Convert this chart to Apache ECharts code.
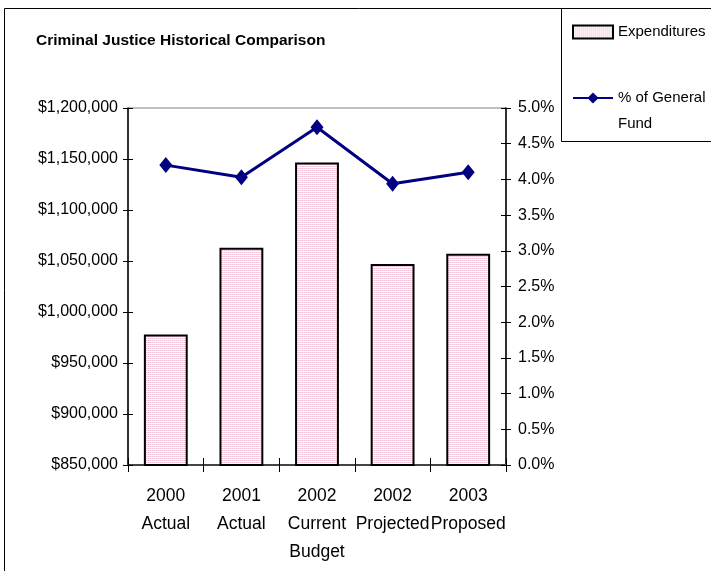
<!DOCTYPE html>
<html>
<head>
<meta charset="utf-8">
<script src="https://cdn.jsdelivr.net/npm/echarts@6/dist/echarts.min.js"></script>
<style>
  html, body { margin: 0; padding: 0; background: #fff; }
  #chart { width: 711px; height: 571px; }
</style>
</head>
<body>
<div id="chart"></div>
<script>
const categories = ['2000\nActual', '2001\nActual', '2002\nCurrent\nBudget', '2002\nProjected', '2003\nProposed']
const expenditures = [978000, 1063000, 1146500, 1047000, 1057000]
const pctGeneralFund = [4.2, 4.03, 4.73, 3.94, 4.1]

const FONT = '"Liberation Sans", Arial, sans-serif'

// pink horizontal hatch used by the bars
function hatch() {
  const c = document.createElement('canvas')
  c.width = 4
  c.height = 2
  const ctx = c.getContext('2d')
  ctx.fillStyle = '#ffffff'
  ctx.fillRect(0, 0, 4, 2)
  ctx.fillStyle = '#efc3d7'
  ctx.fillRect(0, 0, 4, 1)
  ctx.fillStyle = '#f6dbe7'
  ctx.fillRect(1, 0, 1, 1)
  ctx.fillRect(3, 0, 1, 1)
  return c
}

const barFill = { image: hatch(), repeat: 'repeat' }

function money(v) {
  return '$' + String(v).replace(/\B(?=(\d{3})+(?!\d))/g, ',')
}

const leftScale = { min: 850000, max: 1200000, interval: 50000 }
const rightScale = { min: 0, max: 5, interval: 0.5 }

const chart = echarts.init(document.getElementById('chart'))

chart.setOption({
  animation: false,
  backgroundColor: '#fff',
  textStyle: { fontFamily: FONT },
  title: {
    text: 'Criminal Justice Historical Comparison',
    left: 36,
    top: 33,
    padding: 0,
    textStyle: { fontFamily: FONT, fontSize: 15.5, fontWeight: 'bold', color: '#000' }
  },
  legend: [
    {
      data: [{ name: 'Expenditures', icon: 'rect' }],
      left: 572,
      top: 19,
      padding: 0,
      itemWidth: 40,
      itemHeight: 13,
      textStyle: { fontFamily: FONT, fontSize: 15, color: '#000', lineHeight: 26 }
    },
    {
      data: ['% of General Fund'],
      left: 572,
      top: 59,
      padding: 0,
      itemWidth: 40,
      itemHeight: 14,
      formatter: () => ' \n% of General\nFund',
      textStyle: { fontFamily: FONT, fontSize: 15, color: '#000', lineHeight: 26 }
    }
  ],
  grid: {
    left: 128, right: 205, top: 108, bottom: 106,
    show: true, borderColor: '#808080', borderWidth: 1
  },
  xAxis: [
    {
      type: 'category',
      data: categories,
      axisLine: { lineStyle: { color: '#444', width: 2 } },
      axisTick: { show: true, length: 7, lineStyle: { color: '#000' } },
      axisLabel: { color: '#000', fontSize: 17.5, lineHeight: 28, margin: 17, fontFamily: FONT, interval: 0 }
    },
    {
      type: 'category',
      data: categories,
      position: 'bottom',
      axisLine: { show: false },
      axisTick: { show: true, inside: true, length: 7, lineStyle: { color: '#000' } },
      axisLabel: { show: false }
    }
  ],
  yAxis: [
    {
      type: 'value',
      position: 'left',
      ...leftScale,
      splitLine: { show: false },
      axisLine: { show: true, lineStyle: { color: '#000', width: 1.5 } },
      axisTick: { show: true, length: 5, lineStyle: { color: '#000' } },
      axisLabel: { color: '#000', fontSize: 16, margin: 10, fontFamily: FONT, formatter: money }
    },
    {
      type: 'value',
      position: 'right',
      ...rightScale,
      splitLine: { show: false },
      axisLine: { show: true, lineStyle: { color: '#000', width: 1.5 } },
      axisTick: { show: true, length: 5, lineStyle: { color: '#000' } },
      axisLabel: { color: '#000', fontSize: 16, margin: 12, fontFamily: FONT, formatter: v => v.toFixed(1) + '%' }
    },
    {
      type: 'value',
      position: 'left',
      ...leftScale,
      splitLine: { show: false },
      axisLine: { show: false },
      axisTick: { show: true, inside: true, length: 5, lineStyle: { color: '#000' } },
      axisLabel: { show: false }
    },
    {
      type: 'value',
      position: 'right',
      ...rightScale,
      splitLine: { show: false },
      axisLine: { show: false },
      axisTick: { show: true, inside: true, length: 5, lineStyle: { color: '#000' } },
      axisLabel: { show: false }
    }
  ],
  series: [
    {
      name: 'Expenditures',
      type: 'bar',
      yAxisIndex: 0,
      data: expenditures,
      barWidth: '58%',
      itemStyle: { color: barFill, borderColor: '#000', borderWidth: 2 }
    },
    {
      name: '% of General Fund',
      type: 'line',
      yAxisIndex: 1,
      data: pctGeneralFund,
      symbol: 'diamond',
      symbolSize: [13, 16],
      lineStyle: { color: '#000080', width: 3 },
      itemStyle: { color: '#000080' }
    }
  ],
  graphic: [
    {
      type: 'rect',
      silent: true,
      shape: { x: 4.5, y: 8.5, width: 720, height: 600 },
      style: { fill: 'none', stroke: '#000', lineWidth: 1 }
    },
    {
      type: 'rect',
      silent: true,
      z: -1,
      shape: { x: 561.5, y: 8.5, width: 160, height: 133 },
      style: { fill: '#fff', stroke: '#000', lineWidth: 1 }
    }
  ]
})
</script>
</body>
</html>
